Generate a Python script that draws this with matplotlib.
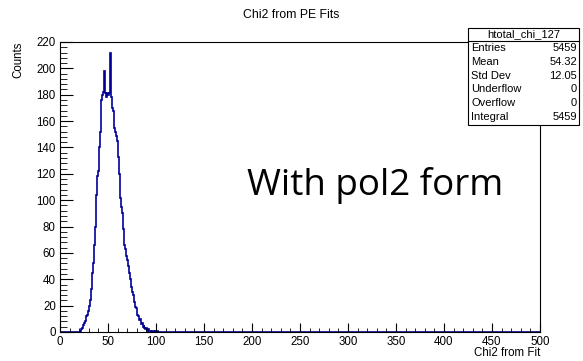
import numpy as np
import matplotlib
matplotlib.use('Agg')
import matplotlib.pyplot as plt
from matplotlib.ticker import MultipleLocator

plt.rcParams['font.family'] = ['Liberation Sans', 'DejaVu Sans']

# histogram contents, 1 unit bins starting at first_bin
first_bin = 20
counts = [0, 1, 2, 3, 5, 7, 8, 12, 13, 16,
          20, 24, 33, 45, 52, 66, 80, 98, 104, 118,
          122, 140, 152, 176, 180, 182, 198, 181, 178, 181,
          180, 181, 212, 178, 170, 168, 155, 152, 149, 145,
          133, 120, 107, 102, 95, 90, 78, 66, 63, 58,
          55, 50, 45, 40, 34, 30, 28, 23, 19, 18,
          13, 12, 9, 10, 6, 7, 4, 5, 3, 2,
          3, 1, 2, 1, 1, 0, 1, 1, 0, 1, 0, 1]
stat_names = ['Entries', 'Mean', 'Std Dev', 'Underflow', 'Overflow', 'Integral']
stat_values = ['5459', '54.32', '12.05', '0', '0', '5459']

full = np.zeros(500)
full[first_bin:first_bin + len(counts)] = counts
edges = np.arange(0, 501)

fig = plt.figure(figsize=(5.83, 3.61), dpi=100)
ax = fig.add_axes([60/583, 1 - 332/361, 480/583, 290/361])
ax.stairs(full, edges, color='#000099', lw=1.2)
ax.set_xlim(0, 500)
ax.set_ylim(0, 220)

ax.xaxis.set_major_locator(MultipleLocator(50))
ax.xaxis.set_minor_locator(MultipleLocator(10))
ax.yaxis.set_major_locator(MultipleLocator(20))
ax.yaxis.set_minor_locator(MultipleLocator(4))
ax.tick_params(which='both', direction='in', top=False, right=False, labelsize=8.3)
ax.tick_params(axis='y', which='major', length=9.5, pad=3)
ax.tick_params(axis='y', which='minor', length=4.8)
ax.tick_params(axis='x', which='major', length=6.5, pad=3)
ax.tick_params(axis='x', which='minor', length=3.2)
for s in ax.spines.values():
    s.set_linewidth(0.8)

fig.text(0.5, 1 - 15/361, 'Chi2 from PE Fits', ha='center', va='center', fontsize=8.8)
fig.text(540/583, 1 - 353/361, 'Chi2 from Fit', ha='right', va='center', fontsize=8.3)
fig.text(18/583, 1 - 42/361, 'Counts', ha='center', va='top', rotation=90, fontsize=8.3)

ax.text((247 - 60)/480, (332 - 185)/290, 'With pol2 form', transform=ax.transAxes,
        fontsize=26.5, family='Open Sans', ha='left', va='center')

# stats box
bx0, bx1 = 468/583, 579/583
by0, by1 = 1 - 125/361, 1 - 28/361
box = plt.Rectangle((bx0, by0), bx1 - bx0, by1 - by0, transform=fig.transFigure,
                    facecolor='white', edgecolor='black', lw=0.8, zorder=5)
fig.add_artist(box)
fig.add_artist(plt.Line2D([bx0, bx1], [1 - 41/361] * 2, transform=fig.transFigure,
                          color='black', lw=0.8, zorder=6))
fig.text((bx0 + bx1) / 2, 1 - 34.5/361, 'htotal_chi_127', ha='center', va='center',
         fontsize=8, zorder=7)
for i, (n, v) in enumerate(zip(stat_names, stat_values)):
    y = 1 - (48 + i * 13.8)/361
    fig.text(471/583, y, n, ha='left', va='center', fontsize=8, zorder=7)
    fig.text(577/583, y, v, ha='right', va='center', fontsize=8, zorder=7)

fig.savefig('out.png', dpi=100)
